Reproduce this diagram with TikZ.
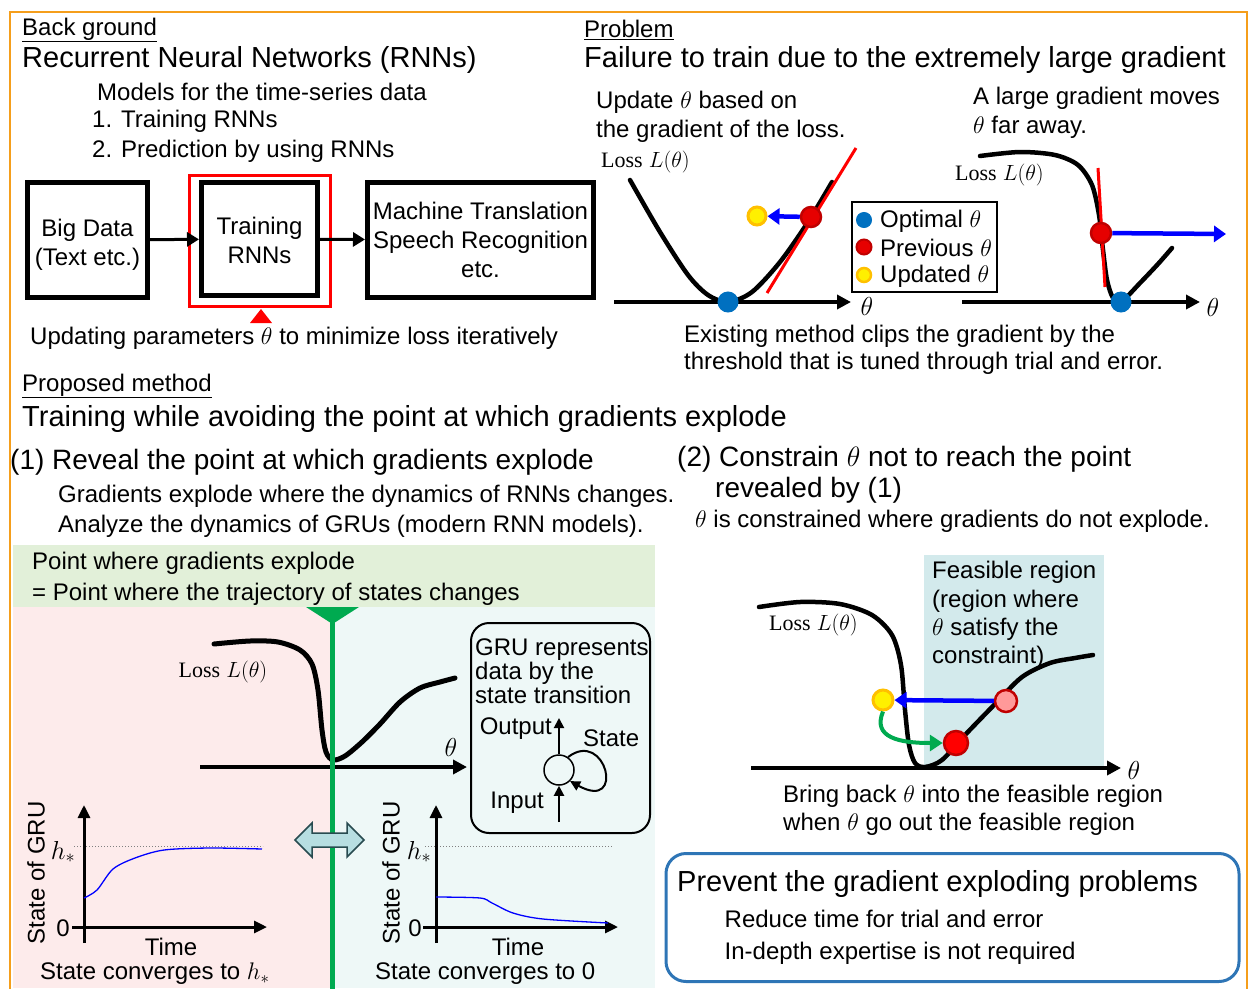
\RequirePackage{fix-cm}
\documentclass[tikz,border=0pt]{standalone}
\usepackage{fontspec}
\setmainfont{Liberation Sans}
\newfontfamily\lossfont{Liberation Serif}
\usetikzlibrary{arrows.meta}

\definecolor{frameor}{RGB}{245,158,27}
\definecolor{optblue}{RGB}{0,112,192}
\definecolor{prevred}{RGB}{230,0,0}
\definecolor{darkred}{RGB}{192,0,0}
\definecolor{updyel}{RGB}{255,240,0}
\definecolor{updorg}{RGB}{255,192,0}
\definecolor{bandgreen}{RGB}{226,240,217}
\definecolor{leftpink}{RGB}{253,235,235}
\definecolor{rightcyan}{RGB}{238,248,247}
\definecolor{feasible}{RGB}{211,234,236}
\definecolor{splitgreen}{RGB}{0,170,80}
\definecolor{resultblue}{RGB}{46,117,182}
\definecolor{swapfill}{RGB}{183,222,225}
\definecolor{swapdraw}{RGB}{40,75,80}

\tikzset{
  txt/.style={anchor=west, inner sep=0pt, align=left, font=\fontsize{24}{29}\selectfont},
  head/.style={txt, font=\fontsize{29}{34}\selectfont},
  sect/.style={txt, font=\fontsize{28}{31}\selectfont},
  losslbl/.style={inner sep=0pt, font=\fontsize{22}{26}\selectfont},
  thlbl/.style={inner sep=0pt, font=\fontsize{26}{30}\selectfont},
  blk/.style={draw, line width=5pt, align=center, font=\fontsize{24}{29}\selectfont},
  curve/.style={line width=4.5pt, line cap=round},
  axis/.style={line width=4pt, -{Triangle[length=14pt,width=14pt]}},
  smallaxis/.style={line width=3pt, -{Triangle[length=13pt,width=12pt]}},
  opt/.style={circle, fill=optblue, draw=optblue, line width=1pt, minimum size=20pt, inner sep=0pt},
  prev/.style={circle, fill=prevred, draw=darkred, line width=2.5pt, minimum size=20pt, inner sep=0pt},
  upd/.style={circle, fill=updyel, draw=updorg, line width=3pt, minimum size=18pt, inner sep=0pt},
  move/.style={blue, line width=4.5pt, -{Triangle[length=12pt,width=16pt]}},
  gru/.style={line width=2pt, -{Triangle[length=10pt,width=10pt]}},
  state/.style={blue, line width=1.3pt},
}

\begin{document}
\begin{tikzpicture}[x=1pt,y=-1pt]
\useasboundingbox (0,0) rectangle (1255,988);

% backgrounds
\fill[bandgreen] (13,545) rectangle (655,607);
\fill[leftpink] (13,607) rectangle (332,988);
\fill[rightcyan] (332,607) rectangle (655,988);
\fill[feasible] (924,555) rectangle (1104,768);
\draw[frameor, line width=2.5pt] (10,1010) -- (10,12) -- (1247,12) -- (1247,1010);

% Back ground
\node[txt] (bg) at (22,30) {\underline{Back ground}};
\node[head] (rnn) at (22,60) {Recurrent Neural Networks (RNNs)};
\node[txt] (models) at (97,92) {Models for the time-series data};
\node[txt, font=\fontsize{24}{30}\selectfont] (uses) at (92,136) {1. Training RNNs\\2. Prediction by using RNNs};

\node[blk, minimum width=120pt, minimum height=115pt] (bigdata) at (87.5,240) {\rule{0pt}{27pt}Big Data\\(Text etc.)};
\node[blk, minimum width=116pt, minimum height=113pt] (training) at (259.5,239) {\rule{0pt}{21pt}Training\\RNNs};
\node[draw=red, line width=3pt, minimum width=141pt, minimum height=131pt] (redframe) at (260,241) {};
\node[blk, minimum width=226pt, minimum height=115pt] (apps) at (480.5,240) {Machine Translation\\Speech Recognition\\etc.};
\draw[line width=3pt, -{Triangle[length=12pt,width=14pt]}] (bigdata) -- (training);
\draw[line width=3pt, -{Triangle[length=12pt,width=14pt]}] (training) -- (apps);
\fill[red] (250,323) -- (272,323) -- (261,309) -- cycle;
\node[txt] (iter) at (30,338) {Updating parameters $\theta$ to minimize loss iteratively};

% Problem
\node[txt] (pb) at (584,30) {\underline{Problem}};
\node[head] (fail) at (584,60) {Failure to train due to the extremely large gradient};
\node[txt] (upd) at (596,116.5) {Update $\theta$ based on\\the gradient of the loss.};
\node[losslbl, anchor=west] (loss1) at (601,162) {{\lossfont Loss} $L(\theta)$};
\draw[curve] plot[smooth] coordinates {(630,180) (660,232) (688,275) (708,295) (728,302) (752,292) (780,262) (808,222) (832,182)};
\draw[axis] (614,302) -- (851,302);
\node[thlbl] (th1) at (867,306) {$\theta$};
\draw[red, line width=3pt] (767,293) -- (856,148);
\node[opt] (opt1) at (728,302) {};
\node[prev] (prev1) at (811,217) {};
\node[upd] (upd1) at (757,216) {};
\draw[move] (prev1) -- (upd1);

\node[draw, line width=1.2pt, minimum width=145pt, minimum height=90pt] (legend) at (924.5,247) {};
\node[opt, minimum size=15pt] (lgopt) at (864,220) {};
\node[prev, minimum size=15pt, line width=2pt] (lgprev) at (864,247) {};
\node[upd, minimum size=14pt, line width=2.5pt] (lgupd) at (864,275) {};
\node[txt] at (880,221) {Optimal $\theta$};
\node[txt] at (880,248) {Previous $\theta$};
\node[txt] at (880,276) {Updated $\theta$};

\node[txt] (large) at (973,113) {A large gradient moves\\$\theta$ far away.};
\node[losslbl, anchor=west] (loss2) at (955,175) {{\lossfont Loss} $L(\theta)$};
\draw[curve] plot[smooth] coordinates {(980,156) (1020,152) (1055,155) (1078,165) (1092,185) (1099,215) (1103,250) (1107,280) (1113,298) (1121,302) (1140,283) (1158,264) (1172,248)};
\draw[axis] (962,302) -- (1200,302);
\node[thlbl] (th2) at (1213,307) {$\theta$};
\draw[red, line width=3pt] (1098,168) -- (1105,287);
\node[opt] (opt2) at (1121,302) {};
\node[prev] (prev2) at (1101,233) {};
\coordinate (far) at (1226,234);
\draw[move] (prev2) -- (far);
\node[txt, font=\fontsize{24}{27}\selectfont] (clip) at (684,349.5) {Existing method clips the gradient by the\\threshold that is tuned through trial and error.};

% Proposed method
\node[txt] (pm) at (22,386) {\underline{Proposed method}};
\node[head] (avoid) at (22,419) {Training while avoiding the point at which gradients explode};
\node[sect] (step1) at (10,462) {(1) Reveal the point at which gradients explode};
\node[txt] at (58,496) {Gradients explode where the dynamics of RNNs changes.};
\node[txt] at (58,526) {Analyze the dynamics of GRUs (modern RNN models).};
\node[sect] (step2) at (677,459) {(2) Constrain $\theta$ not to reach the point};
\node[sect] at (715,490) {revealed by (1)};
\node[txt] at (695,521) {$\theta$ is constrained where gradients do not explode.};

% (1) panel
\node[txt] at (32,563) {Point where gradients explode};
\node[txt] at (32,594) {= Point where the trajectory of states changes};
\draw[curve, line width=5pt] plot[smooth] coordinates {(214,644) (250,641) (278,642) (300,650) (312,664) (318,690) (322,730) (326,752) (333,760) (345,756) (362,742) (380,724) (400,702) (420,688) (440,682) (455,678)};
\draw[axis] (200,767) -- (467,767);
\node[thlbl] (th3) at (451,747) {$\theta$};
\node[losslbl] (loss3) at (223,672) {{\lossfont Loss} $L(\theta)$};
\draw[splitgreen, line width=5pt] (332.5,607) -- (332.5,990);
\fill[splitgreen] (306,607) -- (359,607) -- (332.5,624) -- cycle;
\filldraw[fill=swapfill, draw=swapdraw, line width=1.5pt] (295,840) -- (312,823) -- (312,833) -- (347,833) -- (347,823) -- (364,840) -- (347,857) -- (347,847) -- (312,847) -- (312,857) -- cycle;

\node[draw, line width=2pt, rounded corners=18pt, minimum width=179pt, minimum height=210pt] (grubox) at (560.5,728) {};
\node[txt, font=\fontsize{24}{24}\selectfont] (gru) at (475,671) {GRU represents\\data by the\\state transition};
\node[circle, draw, line width=1.5pt, minimum size=30pt, inner sep=0pt] (cell) at (559,770) {};
\coordinate (outtip) at (559,718);
\coordinate (intail) at (559,822);
\draw[gru] (cell) -- (outtip);
\draw[gru] (intail) -- (cell);
\draw[gru] (cell.55) .. controls (606,728) and (626,812) .. (cell.-45);
\node[txt, anchor=east] at (552,729) {Output};
\node[txt] at (583,738) {State};
\node[txt, anchor=east] at (544,803) {Input};

% state plots
\draw[gray, dotted, line width=1pt] (74,846) -- (263,846);
\draw[smallaxis] (84,943) -- (84,805);
\draw[smallaxis] (72,927) -- (267,927);
\node[txt, anchor=center] at (63,928) {0};
\node[thlbl] at (63,852) {$h_*$};
\node[txt, anchor=center, rotate=90] at (36,873) {State of GRU};
\draw[state] plot[smooth] coordinates {(84,898) (97,890) (113,869) (135,858) (164,850) (210,848) (262,849)};
\node[txt, anchor=center] at (171,947) {Time};
\node[txt] at (40,974) {State converges to $h_*$};

\draw[gray, dotted, line width=1pt] (425,846) -- (612,846);
\draw[smallaxis] (436,943) -- (436,805);
\draw[smallaxis] (423,927) -- (618,927);
\node[txt, anchor=center] at (415,928) {0};
\node[thlbl] at (419,852) {$h_*$};
\node[txt, anchor=center, rotate=90] at (391,873) {State of GRU};
\draw[state] plot[smooth] coordinates {(436,897) (480,898) (492,903) (513,913) (543,919) (608,923)};
\node[txt, anchor=center] at (518,947) {Time};
\node[txt] at (375,974) {State converges to 0};

% (2) panel
\node[txt, font=\fontsize{24}{28.3}\selectfont] (feas) at (932,615) {Feasible region\\(region where\\$\theta$ satisfy the\\constraint)};
\node[losslbl, anchor=west] (loss4) at (769,625) {{\lossfont Loss} $L(\theta)$};
\draw[curve] plot[smooth] coordinates {(759,607) (800,602) (840,604) (872,615) (892,635) (901,665) (905,710) (909,745) (915,763) (925,767) (942,760) (965,735) (995,704) (1022,677) (1050,663) (1075,658) (1093,655)};
\draw[axis] (751,768) -- (1121,768);
\node[thlbl] (th4) at (1134,770) {$\theta$};
\node[upd, minimum size=20pt] (upd3) at (883,700) {};
\node[prev, fill=red!40, minimum size=22pt] (prev3) at (1006,701) {};
\node[prev, fill=red, minimum size=24pt] (back) at (956,743) {};
\draw[move] (prev3) -- (upd3);
\draw[splitgreen, line width=4pt, -{Triangle[length=13pt,width=16pt]}] (upd3.south) .. controls (872,738) and (900,743) .. (back.west);
\node[txt, font=\fontsize{24}{28}\selectfont] (bring) at (783,810) {Bring back $\theta$ into the feasible region\\when $\theta$ go out the feasible region};

% result
\node[draw=resultblue, line width=3pt, rounded corners=20pt, minimum width=573pt, minimum height=128pt] (result) at (952.5,917.5) {};
\node[head] at (677,884) {Prevent the gradient exploding problems};
\node[txt] at (724.5,919) {Reduce time for trial and error};
\node[txt] at (724.5,953) {In-depth expertise is not required};
\end{tikzpicture}
\end{document}
